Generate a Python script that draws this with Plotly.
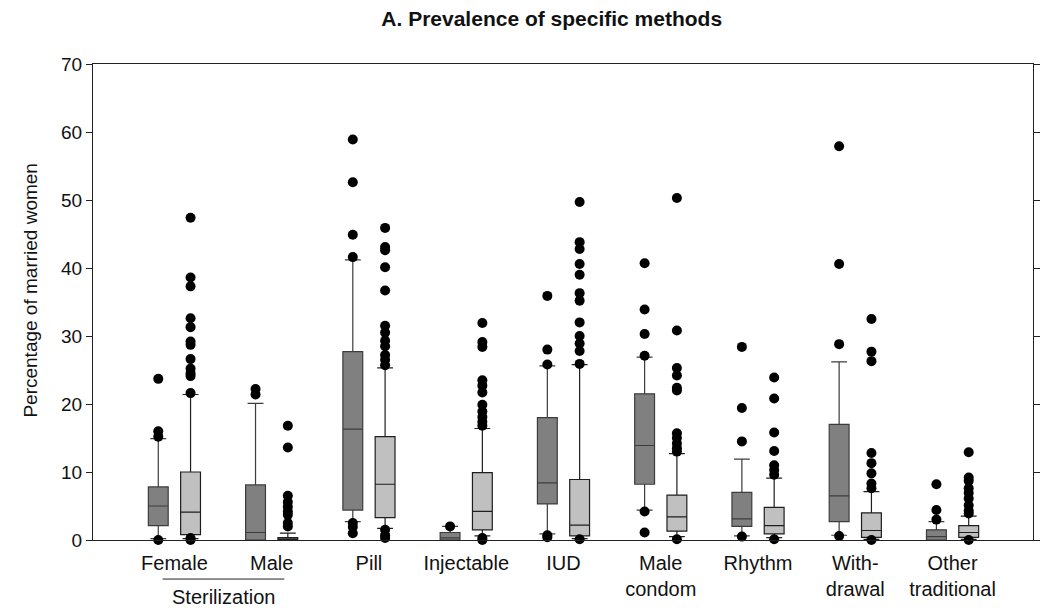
import plotly.graph_objects as go

categories = ["Female", "Male", "Pill", "Injectable", "IUD", "Male<br>condom",
              "Rhythm", "With-<br>drawal", "Other<br>traditional"]
positions = [1, 2, 3, 4, 5, 6, 7, 8, 9]

# Dark series
dark_q1 = [2.1, 0.0, 4.4, 0.0, 5.3, 8.2, 2.0, 2.7, 0.0]
dark_median = [5.0, 1.1, 16.3, 0.3, 8.4, 13.9, 3.1, 6.5, 0.5]
dark_q3 = [7.8, 8.1, 27.7, 1.1, 18.0, 21.5, 7.0, 17.0, 1.5]
dark_lower = [0.2, 0.0, 2.7, 0.0, 0.9, 4.4, 0.6, 0.7, 0.0]
dark_upper = [14.9, 20.1, 41.2, 2.0, 25.6, 26.9, 11.9, 26.2, 2.7]
dark_outliers = [
    [23.7, 16.0, 15.2, 0.0],
    [22.2, 21.4],
    [58.9, 52.6, 44.9, 41.6, 2.5, 1.9, 1.0],
    [2.0],
    [35.9, 28.0, 25.8, 0.7, 0.4],
    [40.7, 33.9, 30.3, 27.1, 4.2, 1.1],
    [28.4, 19.4, 14.5, 0.5],
    [57.9, 40.6, 28.8, 0.6],
    [8.2, 4.4, 3.0],
]

# Light series
light_q1 = [0.8, 0.0, 3.3, 1.5, 0.6, 1.3, 0.9, 0.4, 0.4]
light_median = [4.1, 0.05, 8.2, 4.2, 2.2, 3.4, 2.1, 1.4, 1.1]
light_q3 = [10.0, 0.35, 15.2, 9.9, 8.9, 6.6, 4.8, 4.0, 2.1]
light_lower = [0.2, 0.0, 1.7, 0.6, 0.2, 0.5, 0.35, 0.1, 0.1]
light_upper = [21.4, 1.0, 25.3, 16.4, 25.8, 12.7, 9.1, 7.1, 3.5]
light_outliers = [
    [47.4, 38.6, 37.3, 32.6, 31.3, 29.2, 28.7, 26.6, 25.2, 24.5, 24.1, 21.6, 0.3, 0.0],
    [16.8, 13.6, 6.5, 5.6, 4.9, 4.2, 3.7, 2.5, 2.0],
    [45.9, 43.1, 42.6, 40.1, 36.7, 31.5, 30.5, 29.3, 28.5, 27.2, 26.5, 25.7, 1.5, 0.7, 0.3],
    [31.9, 29.1, 28.4, 23.5, 22.7, 21.7, 19.9, 18.9, 18.1, 17.4, 16.8, 0.3, 0.0],
    [49.7, 43.8, 42.8, 40.6, 39.0, 36.3, 35.2, 32.0, 30.0, 28.9, 27.8, 25.9, 0.1],
    [50.3, 30.8, 25.3, 24.2, 22.4, 22.0, 15.7, 15.0, 14.2, 13.5, 13.0, 0.1],
    [23.9, 20.8, 15.8, 13.1, 11.0, 10.3, 9.6, 0.1],
    [32.5, 27.7, 26.3, 12.8, 11.3, 9.8, 8.3, 7.6, 0.0],
    [12.9, 9.2, 8.7, 7.6, 6.9, 6.1, 5.1, 4.3, 3.9, 0.0],
]

y_ticks = [0, 10, 20, 30, 40, 50, 60, 70]

OFFSET = 0.166
BOXW = 0.204
FONT = "Liberation Sans, Arial, sans-serif"

fig = go.Figure()

series = [
    (-OFFSET, dark_q1, dark_median, dark_q3, dark_lower, dark_upper, dark_outliers, "#808080", "#3c3c3c"),
    (OFFSET, light_q1, light_median, light_q3, light_lower, light_upper, light_outliers, "#c0c0c0", "#1e1e1e"),
]

for off, q1, med, q3, lo, up, outs, fill, lc in series:
    xs = [p + off for p in positions]
    fig.add_trace(go.Box(
        x=xs, q1=q1, median=med, q3=q3, lowerfence=lo, upperfence=up,
        width=BOXW, whiskerwidth=0.8, fillcolor=fill,
        line=dict(color=lc, width=1.2), boxpoints=False,
        showlegend=False, hoverinfo="skip",
    ))
    px, py = [], []
    for p, vals in zip(xs, outs):
        px.extend([p] * len(vals))
        py.extend(vals)
    fig.add_trace(go.Scatter(
        x=px, y=py, mode="markers",
        marker=dict(color="black", size=10, line=dict(width=0)),
        showlegend=False, hoverinfo="skip", cliponaxis=False,
    ))

fig.add_shape(type="line", xref="x", yref="paper",
              x0=0.878, x1=2.13, y0=-0.082, y1=-0.082,
              line=dict(color="#222", width=1))
fig.add_annotation(text="Sterilization", xref="x", yref="paper",
                   x=1.5, y=-0.12, showarrow=False, yanchor="middle",
                   font=dict(family=FONT, size=20, color="#111"))
fig.add_annotation(text="Percentage of married women", xref="paper", yref="paper",
                   x=-0.0665, y=0.525, showarrow=False, textangle=-90,
                   xanchor="center", yanchor="middle",
                   font=dict(family=FONT, size=19, color="#111"))

fig.update_layout(
    width=1046, height=610,
    margin=dict(l=93, r=6, t=64, b=70),
    paper_bgcolor="white", plot_bgcolor="white",
    title=dict(text="<b>A. Prevalence of specific methods</b>",
               x=0.488, xref="paper", xanchor="center",
               y=0.969, yref="container", yanchor="middle",
               font=dict(family=FONT, size=21, color="#111")),
    xaxis=dict(range=[0.163, 9.827], tickvals=positions, ticktext=categories,
               showgrid=False, zeroline=False, ticks="",
               showline=True, linecolor="#222", linewidth=1, mirror=True,
               ticklabelstandoff=5,
               tickfont=dict(family=FONT, size=20, color="#111")),
    yaxis=dict(range=[0, 70], tickvals=y_ticks, showgrid=False, zeroline=False,
               ticks="outside", ticklen=6, tickcolor="#222", tickwidth=1,
               showline=True, linecolor="#222", linewidth=1, mirror="ticks",
               tickfont=dict(family=FONT, size=19, color="#111")),
)

fig.write_html("out.html")
